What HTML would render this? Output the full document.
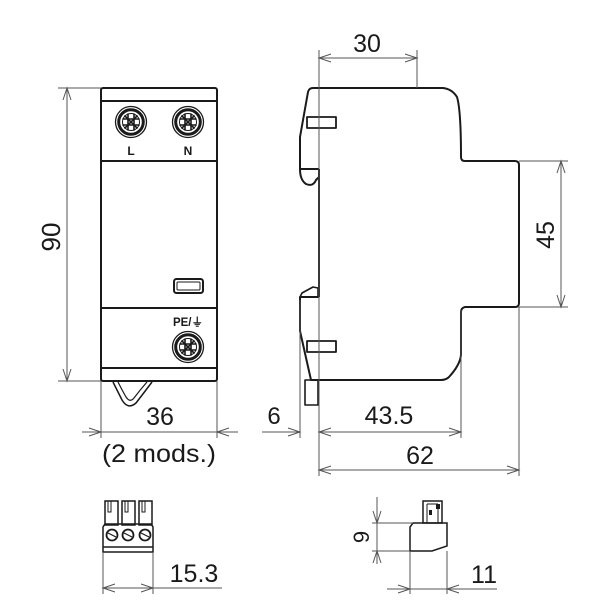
<!DOCTYPE html>
<html><head><meta charset="utf-8"><style>
html,body{margin:0;padding:0;background:#fff;}
svg{display:block;}
text{font-family:"Liberation Sans","DejaVu Sans",sans-serif;fill:#1a1a1a;}
</style></head><body>
<svg width="600" height="600" viewBox="0 0 600 600" xmlns="http://www.w3.org/2000/svg">
<defs>
<g id="term">
  <circle r="15.5" fill="#fff" stroke="#1a1a1a" stroke-width="1.3"/>
  <circle r="12.3" fill="none" stroke="#1a1a1a" stroke-width="3"/>
  <circle r="8.5" fill="none" stroke="#1a1a1a" stroke-width="1"/>
  <g stroke="#1a1a1a" stroke-width="1.6" stroke-linecap="round">
    <line x1="-3" y1="-8" x2="-3" y2="8"/><line x1="3" y1="-8" x2="3" y2="8"/>
    <line x1="-8" y1="-3" x2="8" y2="-3"/><line x1="-8" y1="3" x2="8" y2="3"/>
    <line x1="-6" y1="-6" x2="6" y2="6"/><line x1="-6" y1="6" x2="6" y2="-6"/>
  </g>
</g>
</defs>

<!-- ===== FRONT VIEW ===== -->
<g fill="none" stroke="#1a1a1a" stroke-width="2">
  <rect x="101" y="88" width="116" height="293" rx="2"/>
  <line x1="101" y1="101" x2="217" y2="101"/>
  <line x1="101" y1="161" x2="217" y2="161"/>
  <line x1="101" y1="308" x2="217" y2="308"/>
  <line x1="101" y1="368" x2="217" y2="368"/>
  <rect x="174" y="279" width="29" height="14" rx="2.5"/>
  <rect x="177" y="282" width="23" height="8" rx="1" stroke-width="1"/>
  <!-- clip loop -->
  <path d="M113 382 Q118 392 122 400 Q128 410 136 403 Q143 394 152 382" stroke-width="1.5"/>
  <path d="M118 382 Q122 390 126 397 Q130 403 134 398 Q140 390 147 382" stroke-width="1.2"/>
</g>
<use href="#term" x="131" y="122"/>
<use href="#term" x="188" y="122"/>
<use href="#term" x="188" y="347"/>
<text x="131" y="155" font-size="12" font-weight="bold" text-anchor="middle">L</text>
<text x="188" y="155" font-size="12" font-weight="bold" text-anchor="middle">N</text>
<text x="188" y="326" font-size="11.5" font-weight="bold" text-anchor="middle">PE/⏚</text>

<!-- dims front -->
<g fill="none" stroke="#555" stroke-width="1">
  <line x1="67" y1="88" x2="67" y2="381"/>
  <line x1="58" y1="88" x2="101" y2="88"/>
  <line x1="58" y1="381" x2="101" y2="381"/>
  <polyline points="63,100 67,88 71,100"/>
  <polyline points="63,369 67,381 71,369"/>
  <line x1="101" y1="381" x2="101" y2="438"/>
  <line x1="217" y1="381" x2="217" y2="438"/>
  <line x1="82" y1="432" x2="238" y2="432"/>
  <polyline points="89,428 101,432 89,436"/>
  <polyline points="229,428 217,432 229,436"/>
</g>
<text x="0" y="0" font-size="26" text-anchor="middle" transform="translate(60,237) rotate(-90)">90</text>
<text x="160" y="425" font-size="25" text-anchor="middle">36</text>
<text x="159" y="462" font-size="25" text-anchor="middle" textLength="114" lengthAdjust="spacingAndGlyphs">(2 mods.)</text>

<!-- ===== SIDE VIEW ===== -->
<g fill="none" stroke="#1a1a1a" stroke-width="2" stroke-linejoin="round">
  <path d="M300 169 L300 137 L308 92 Q309 88 313 88 L443 88 Q452 89 457 97 Q461 110 461 157 Q461 161 465 161 L515 161 Q519 161 519 165 L519 303 Q519 307 515 307 L465 307 Q461 308 461 312 L461 355 Q460 365 449 377 Q446 380 441 380 L311 380 L300 331 L300 297 L319 297"/>
  <line x1="300" y1="169" x2="319" y2="169"/>
  <path d="M300 169 Q300 180 306 184 Q313 187 316 180 L319 177"/>
  <line x1="319" y1="169" x2="319" y2="297"/>
  <path d="M300 297 L302 293 L313 287 L318 288 L318 297" stroke-width="1.6"/>
  <rect x="307" y="117" width="29" height="11" stroke-width="1.8"/>
  <rect x="307" y="341" width="29" height="11" stroke-width="1.8"/>
  <rect x="305" y="380" width="13" height="25" stroke-width="1.6"/>
</g>

<!-- dims side -->
<g fill="none" stroke="#555" stroke-width="1">
  <line x1="319" y1="50" x2="319" y2="476"/>
  <line x1="417" y1="50" x2="417" y2="88"/>
  <line x1="319" y1="58" x2="417" y2="58"/>
  <polyline points="331,54 319,58 331,62"/>
  <polyline points="405,54 417,58 405,62"/>

  <line x1="519" y1="161" x2="568" y2="161"/>
  <line x1="519" y1="307" x2="568" y2="307"/>
  <line x1="561" y1="161" x2="561" y2="307"/>
  <polyline points="557,173 561,161 565,173"/>
  <polyline points="557,295 561,307 565,295"/>

  <line x1="300" y1="300" x2="300" y2="438"/>
  <line x1="461" y1="310" x2="461" y2="438"/>
  <line x1="519" y1="307" x2="519" y2="476"/>
  <line x1="262" y1="432" x2="300" y2="432"/>
  <polyline points="288,428 300,432 288,436"/>
  <line x1="319" y1="432" x2="461" y2="432"/>
  <polyline points="331,428 319,432 331,436"/>
  <polyline points="449,428 461,432 449,436"/>

  <line x1="319" y1="470" x2="519" y2="470"/>
  <polyline points="331,466 319,470 331,474"/>
  <polyline points="507,466 519,470 507,474"/>
</g>
<text x="367" y="52" font-size="25" text-anchor="middle">30</text>
<text x="0" y="0" font-size="25" text-anchor="middle" transform="translate(554,235) rotate(-90)">45</text>
<text x="274" y="424" font-size="24" text-anchor="middle">6</text>
<text x="389" y="424" font-size="25" text-anchor="middle">43.5</text>
<text x="420" y="464" font-size="25" text-anchor="middle">62</text>

<!-- ===== BOTTOM-LEFT CONNECTOR ===== -->
<g fill="none" stroke="#1a1a1a" stroke-width="1.5">
  <rect x="105" y="501" width="13" height="24"/>
  <rect x="122" y="501" width="13" height="24"/>
  <rect x="139" y="501" width="13" height="24"/>
  <path d="M108 501 L108 512 L111 512 L111 501 M125 501 L125 512 L128 512 L128 501 M142 501 L142 512 L145 512 L145 501" stroke-width="1"/>
  <path d="M103 552 L103 527 L105 524 L151 524 L153 527 L153 552 Z"/>
  <line x1="103" y1="547" x2="153" y2="547"/>
  <circle cx="112" cy="535" r="5.5" stroke-width="1.8"/>
  <circle cx="128" cy="535" r="5.5" stroke-width="1.8"/>
  <circle cx="145" cy="535" r="5.5" stroke-width="1.8"/>
  <path d="M108 533 L116 537 M124 533 L132 537 M141 533 L149 537" stroke-width="1.2"/>
</g>
<g fill="none" stroke="#555" stroke-width="1">
  <line x1="103" y1="552" x2="103" y2="594"/>
  <line x1="153" y1="552" x2="153" y2="594"/>
  <line x1="103" y1="588" x2="222" y2="588"/>
  <polyline points="115,584 103,588 115,592"/>
  <polyline points="141,584 153,588 141,592"/>
</g>
<text x="194" y="582" font-size="25" text-anchor="middle">15.3</text>

<!-- ===== BOTTOM-RIGHT CONNECTOR ===== -->
<g fill="none" stroke="#1a1a1a" stroke-width="1.5">
  <path d="M410 551 L410 527 L413 523 L447 523 L447 546 L432 551 Z"/>
  <rect x="423" y="501" width="19" height="22"/>
  <path d="M427 504 L427 523 M438 504 L438 523 M427 504 L438 504" stroke-width="1"/>
  <rect x="436" y="504" width="4" height="5" fill="#1a1a1a" stroke="none"/>
  <rect x="429" y="510" width="3" height="5" fill="#1a1a1a" stroke="none"/>
</g>
<g fill="none" stroke="#555" stroke-width="1">
  <line x1="372" y1="523" x2="413" y2="523"/>
  <line x1="372" y1="551" x2="410" y2="551"/>
  <line x1="377" y1="497" x2="377" y2="564"/>
  <polyline points="373,511 377,523 381,511"/>
  <polyline points="373,563 377,551 381,563"/>
  <line x1="410" y1="551" x2="410" y2="594"/>
  <line x1="447" y1="551" x2="447" y2="594"/>
  <line x1="387" y1="589" x2="497" y2="589"/>
  <polyline points="398,585 410,589 398,593"/>
  <polyline points="459,585 447,589 459,593"/>
</g>
<text x="0" y="0" font-size="22" text-anchor="middle" transform="translate(369,537) rotate(-90)">9</text>
<text x="484" y="583" font-size="25" text-anchor="middle">11</text>
</svg>
</body></html>
